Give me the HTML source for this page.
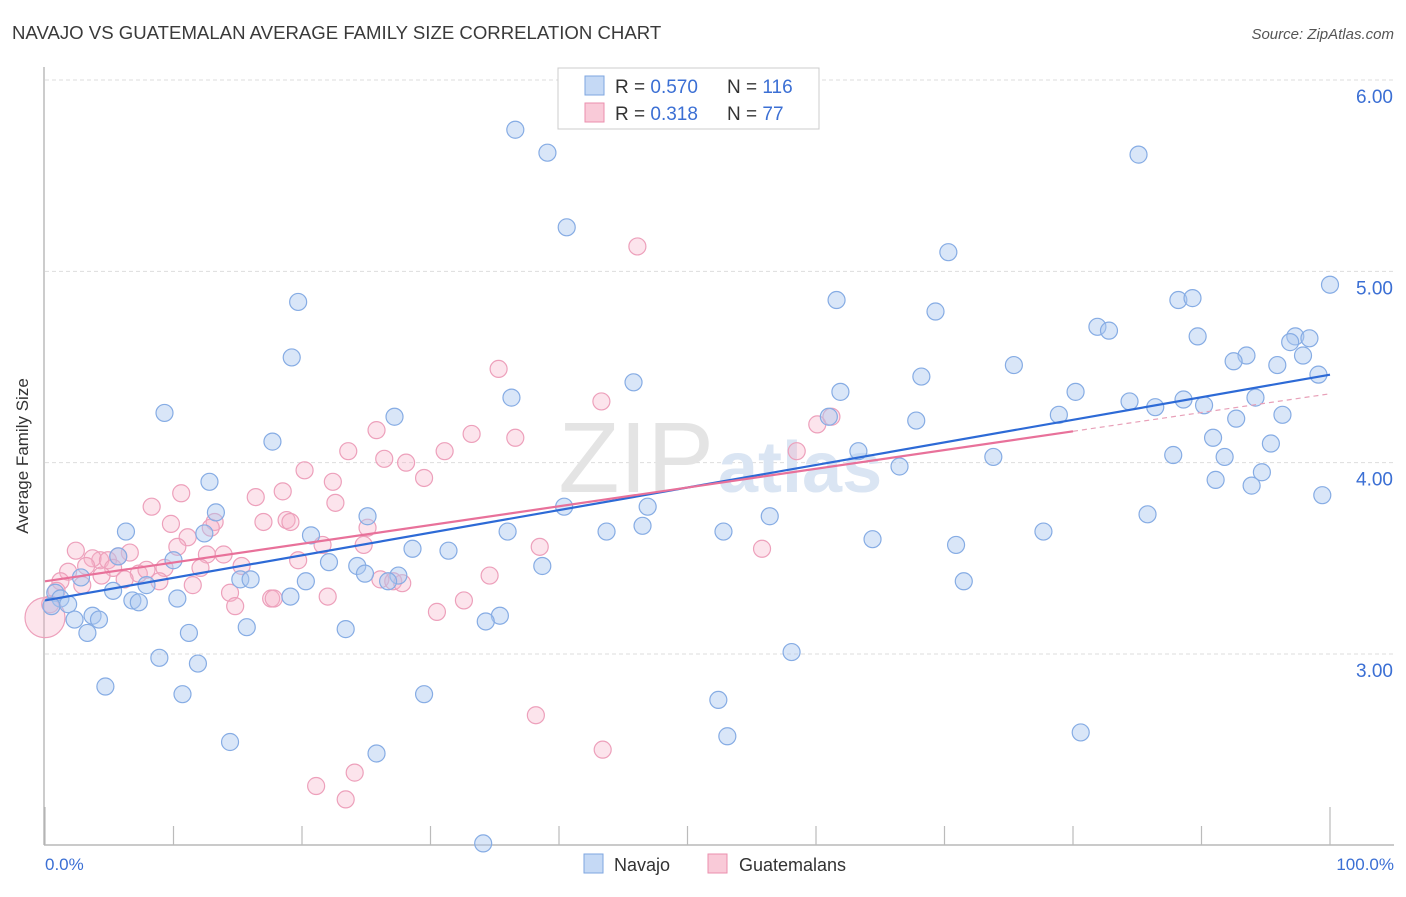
<!DOCTYPE html>
<html><head><meta charset="utf-8"><style>
body{margin:0;background:#fff;font-family:"Liberation Sans",sans-serif;}
svg text{font-family:"Liberation Sans",sans-serif;}
</style></head><body>
<svg id="chart" width="1406" height="892">
<text x="12" y="39" font-size="18.6" fill="#3a3a3a">NAVAJO VS GUATEMALAN AVERAGE FAMILY SIZE CORRELATION CHART</text>
<text x="1394" y="39" font-size="15" fill="#555" font-style="italic" text-anchor="end">Source: ZipAtlas.com</text>
<g id="grid"></g>
<text x="714" y="492" font-size="100" fill="#e4e4e4" text-anchor="end" font-family="Liberation Serif">ZIP</text>
<text x="718" y="492" font-size="72" fill="#dae5f3" font-weight="bold">atlas</text>
<line x1="44" y1="67" x2="44" y2="845" stroke="#aaa" stroke-width="1.2"/>
<line x1="44" y1="845" x2="1394" y2="845" stroke="#aaa" stroke-width="1.2"/>
<g id="xticks"></g>
<text x="28" y="456" font-size="17" fill="#333" text-anchor="middle" transform="rotate(-90 28 456)">Average Family Size</text>
<text x="45" y="870" font-size="17" fill="#3b6fd4">0.0%</text>
<text x="1394" y="870" font-size="17" fill="#3b6fd4" text-anchor="end">100.0%</text>
<g id="pinkpts"></g>
<g id="bluepts"></g>
<g id="trends"></g>
<g>
<rect x="558" y="68" width="261" height="61" fill="#fff" stroke="#ccc"/>
<rect x="585" y="76" width="19" height="19" fill="#c5d9f5" stroke="#7ea6e0"/>
<rect x="585" y="103" width="19" height="19" fill="#f9cad8" stroke="#eb8fae"/>
<text x="615" y="93" font-size="19" fill="#333">R = <tspan fill="#3b6fd4">0.570</tspan></text>
<text x="727" y="93" font-size="19" fill="#333">N = <tspan fill="#3b6fd4">116</tspan></text>
<text x="615" y="120" font-size="19" fill="#333">R =  <tspan fill="#3b6fd4">0.318</tspan></text>
<text x="727" y="120" font-size="19" fill="#333">N =  <tspan fill="#3b6fd4">77</tspan></text>
</g>
<g>
<rect x="584" y="854" width="19" height="19" fill="#c5d9f5" stroke="#7ea6e0"/>
<text x="614" y="871" font-size="18" fill="#333">Navajo</text>
<rect x="708" y="854" width="19" height="19" fill="#f9cad8" stroke="#eb8fae"/>
<text x="739" y="871" font-size="18" fill="#333">Guatemalans</text>
</g>
</svg>
<script>
const yTicks=[6,5,4,3];
const yTickLabels=["6.00","5.00","4.00","3.00"];
const xTicks=[0,10,20,30,40,50,60,70,80,90,100];
const navajoX=[36.6,39.1,40.6,85.1,70.3,100,19.7,61.6,69.3,88.2,89.3,81.9,82.8,89.7,97.3,98.4,96.9,93.5,92.5,97.9,19.2,95.9,75.4,68.2,99.1,45.8,61.9,80.2,36.3,84.4,88.6,90.2,86.4,94.2,9.3,27.2,78.9,92.7,96.3,67.8,61.0,17.7,90.9,95.4,63.3,87.8,91.8,73.8,66.5,94.7,91.1,93.9,12.8,99.4,40.4,46.9,85.8,13.3,56.4,25.1,6.3,12.4,36.0,43.7,46.5,52.8,77.7,20.7,64.4,70.9,28.6,31.4,5.7,10.0,22.1,24.3,38.7,2.8,15.2,24.9,27.5,26.7,16.0,20.3,5.3,7.9,71.5,0.8,1.2,10.3,19.1,6.8,7.3,1.8,0.5,3.7,4.2,2.3,35.4,34.3,3.3,11.2,15.7,23.4,8.9,11.9,58.1,4.7,10.7,29.5,52.4,80.6,53.1,14.4,25.8,34.1];
const navajoY=[5.74,5.62,5.23,5.61,5.10,4.93,4.84,4.85,4.79,4.85,4.86,4.71,4.69,4.66,4.66,4.65,4.63,4.56,4.53,4.56,4.55,4.51,4.51,4.45,4.46,4.42,4.37,4.37,4.34,4.32,4.33,4.30,4.29,4.34,4.26,4.24,4.25,4.23,4.25,4.22,4.24,4.11,4.13,4.10,4.06,4.04,4.03,4.03,3.98,3.95,3.91,3.88,3.90,3.83,3.77,3.77,3.73,3.74,3.72,3.72,3.64,3.63,3.64,3.64,3.67,3.64,3.64,3.62,3.60,3.57,3.55,3.54,3.51,3.49,3.48,3.46,3.46,3.40,3.39,3.42,3.41,3.38,3.39,3.38,3.33,3.36,3.38,3.32,3.29,3.29,3.30,3.28,3.27,3.26,3.25,3.20,3.18,3.18,3.20,3.17,3.11,3.11,3.14,3.13,2.98,2.95,3.01,2.83,2.79,2.79,2.76,2.59,2.57,2.54,2.48,2.01];
const guatX=[46.1,35.3,43.3,25.8,36.6,33.2,23.6,31.1,26.4,28.1,20.2,29.5,58.5,60.1,61.2,10.6,22.4,16.4,18.5,22.6,8.3,13.2,9.8,17.0,18.8,19.1,25.1,12.9,11.1,10.3,21.6,24.8,38.5,55.8,2.4,6.6,5.7,12.6,13.9,4.3,3.7,4.9,3.2,19.7,15.3,5.3,1.8,9.3,7.3,7.9,12.1,4.4,8.9,6.2,1.2,2.9,34.6,26.1,27.1,27.8,17.6,17.8,14.4,22.0,32.6,14.8,30.5,11.5,0.9,0.4,0,38.2,43.4,24.1,21.1,23.4];
const guatY=[5.13,4.49,4.32,4.17,4.13,4.15,4.06,4.06,4.02,4.00,3.96,3.92,4.06,4.20,4.24,3.84,3.90,3.82,3.85,3.79,3.77,3.69,3.68,3.69,3.70,3.69,3.66,3.66,3.61,3.56,3.57,3.57,3.56,3.55,3.54,3.53,3.51,3.52,3.52,3.49,3.50,3.49,3.46,3.49,3.46,3.45,3.43,3.45,3.42,3.44,3.45,3.41,3.38,3.39,3.38,3.36,3.41,3.39,3.38,3.37,3.29,3.29,3.32,3.30,3.28,3.25,3.22,3.36,3.33,3.26,3.19,2.68,2.50,2.38,2.31,2.24];
const navajoTrend=[3.28,4.46];
const guatTrend=[3.38,4.36];
const NS="http://www.w3.org/2000/svg";
function sx(p){return 45+p*12.85;}
function sy(v){return 80+(6-v)*191.33;}
function mk(tag,attrs,parent){const e=document.createElementNS(NS,tag);for(const k in attrs)e.setAttribute(k,attrs[k]);document.getElementById(parent).appendChild(e);return e;}
yTicks.forEach((v,i)=>{
 const l=mk('line',{x1:45,x2:1394,y1:sy(v),y2:sy(v),stroke:'#ddd','stroke-dasharray':'4,3'},'grid');
 
 
 const t=mk('text',{x:1393,y:sy(v)+23,'font-size':19,fill:'#3b6fd4','text-anchor':'end'},'grid');
 t.textContent=yTickLabels[i];
 
 
});
xTicks.forEach((p,i)=>{
 const top=(i===0||i===xTicks.length-1)?807:826;
 const l=mk('line',{x1:sx(p),x2:sx(p),y1:top,y2:845,stroke:'#bbb','stroke-width':1.2},'xticks');
 
 
});
guatX.forEach((p,i)=>{
 const c=mk('circle',{cx:sx(p),cy:sy(guatY[i]),r:(i===70?20:8.5),fill:'rgba(246,178,200,0.35)',stroke:'#eda0bb','stroke-width':1.2},'pinkpts');
 
 
});
navajoX.forEach((p,i)=>{
 const c=mk('circle',{cx:sx(p),cy:sy(navajoY[i]),r:8.5,fill:'rgba(170,200,240,0.45)',stroke:'#86ace4','stroke-width':1.2},'bluepts');
 
 
});
const g80=guatTrend[0]+(guatTrend[1]-guatTrend[0])*0.8;
const l1=mk('line',{x1:sx(0),y1:sy(navajoTrend[0]),x2:sx(100),y2:sy(navajoTrend[1]),stroke:'#2d6ad6','stroke-width':2.2},'trends');


const l2=mk('line',{x1:sx(0),y1:sy(guatTrend[0]),x2:sx(80),y2:sy(g80),stroke:'#e8719a','stroke-width':2.2},'trends');


const l3=mk('line',{x1:sx(80),y1:sy(g80),x2:sx(100),y2:sy(guatTrend[1]),stroke:'#e8a0b8','stroke-width':1.2,'stroke-dasharray':'5,4'},'trends');


</script>
</body></html>
